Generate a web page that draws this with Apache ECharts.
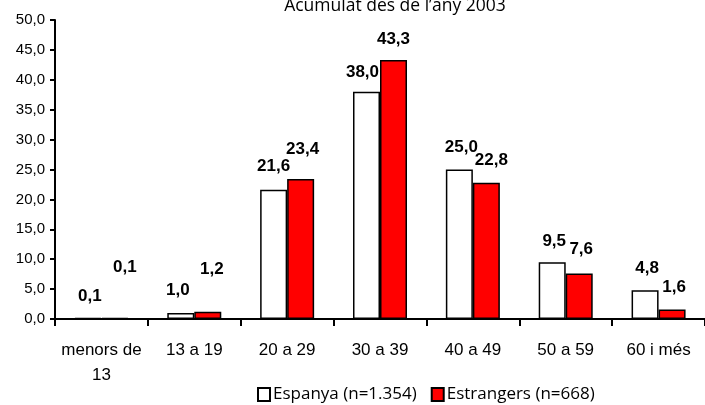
<!DOCTYPE html>
<html>
<head>
<meta charset="utf-8">
<script src="https://cdn.jsdelivr.net/npm/echarts@6/dist/echarts.min.js"></script>
<style>
  html, body { margin: 0; padding: 0; background: #fff; }
  #chart { width: 705px; height: 405px; }
</style>
</head>
<body>
<div id="chart"></div>
<script>
const categories = ['menors de\n13', '13 a 19', '20 a 29', '30 a 39', '40 a 49', '50 a 59', '60 i més']
const espanya = [0.1, 1.0, 21.6, 38.0, 25.0, 9.5, 4.8]
const estrangers = [0.1, 1.2, 23.4, 43.3, 22.8, 7.6, 1.6]
const seriesNames = ['Espanya (n=1.354)', 'Estrangers (n=668)']

// label shifts that mimic the spreadsheet placement
const espOffset = [[2, -9], [-3, -10], [0, -11], [-4, -7], [2, -10], [2, -8], [2, -9]]
const estOffset = [[10, -38], [4, -30], [2, -17], [0, -8], [5, -10], [2, -12], [2, -10]]

const fmt = v => v.toFixed(1).replace('.', ',')

function withLabels(values, offsets) {
  return values.map((v, i) => ({ value: v, label: { offset: offsets[i] } }))
}

const chart = echarts.init(document.getElementById('chart'))

const barLabel = {
  show: true,
  position: 'top',
  distance: 4,
  formatter: p => fmt(p.value),
  fontFamily: 'Liberation Sans, sans-serif',
  fontWeight: 'bold',
  fontSize: 17,
  color: '#000',
}

chart.setOption({
  animation: false,
  title: {
    text: 'Acumulat des de l\u2019any 2003',
    left: 390,
    textAlign: 'center',
    top: -8,
    textStyle: { fontFamily: 'Open Sans, sans-serif', fontWeight: 'normal', fontSize: 17.5, color: '#000' },
  },
  grid: { left: 55, right: 0, top: 20, bottom: 86 },
  legend: {
    top: 381,
    left: 252,
    orient: 'horizontal',
    itemWidth: 12,
    itemHeight: 13,
    itemGap: 14,
    icon: 'rect',
    data: seriesNames,
    textStyle: { fontFamily: 'Open Sans, sans-serif', fontSize: 17, color: '#000', padding: [0, 0, 0, -2] },
  },
  xAxis: {
    type: 'category',
    data: categories,
    axisLine: { lineStyle: { color: '#000', width: 2 } },
    axisTick: { show: true, length: 7, lineStyle: { color: '#000', width: 2 } },
    axisLabel: {
      interval: 0,
      color: '#000',
      fontFamily: 'Liberation Sans, sans-serif',
      fontSize: 17,
      margin: 19,
      lineHeight: 25,
    },
  },
  yAxis: {
    type: 'value',
    min: 0,
    max: 50,
    interval: 5,
    splitLine: { show: false },
    axisLine: { show: true, lineStyle: { color: '#000', width: 2 } },
    axisTick: { show: true, length: 5, lineStyle: { color: '#000', width: 2 } },
    axisLabel: {
      color: '#000',
      fontFamily: 'Liberation Sans, sans-serif',
      fontSize: 15,
      margin: 10,
      formatter: v => fmt(v),
    },
  },
  series: [
    {
      name: seriesNames[0],
      type: 'bar',
      data: withLabels(espanya, espOffset),
      barWidth: 27,
      barGap: '0%',
      barMinHeight: 1,
      itemStyle: { color: '#fff', borderColor: '#000', borderWidth: 1.5 },
      label: barLabel,
    },
    {
      name: seriesNames[1],
      type: 'bar',
      data: withLabels(estrangers, estOffset),
      barWidth: 27,
      barMinHeight: 1,
      itemStyle: { color: '#ff0000', borderColor: '#000', borderWidth: 1.5 },
      label: barLabel,
    },
  ],
})
</script>
</body>
</html>
